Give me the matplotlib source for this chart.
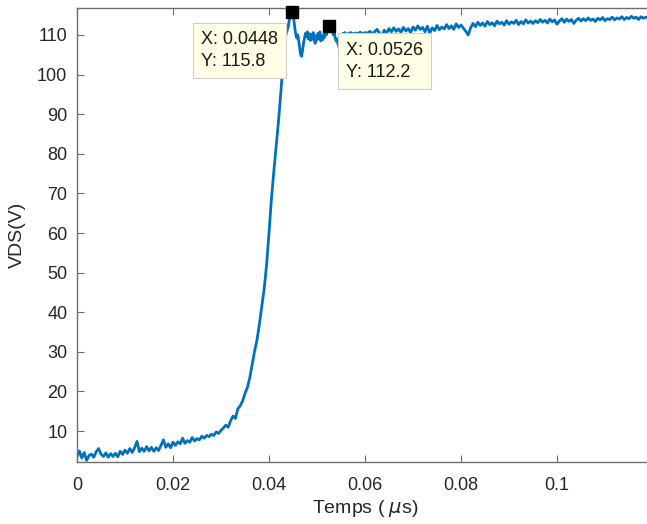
import numpy as np
import matplotlib
matplotlib.use("Agg")
import matplotlib.pyplot as plt

# VDS samples, three segments with their own step
# segment 1: 0 .. 0.0435 us, step 0.0005
vds_rise = [
    3.5, 5.0, 3.2, 4.6, 2.6, 3.8, 4.2, 3.4, 4.8, 5.6,
    4.2, 3.6, 4.5, 3.4, 4.3, 3.6, 4.4, 3.5, 4.9, 4.1,
    5.2, 4.4, 5.6, 4.6, 5.8, 7.4, 4.8, 5.7, 4.9, 6.1,
    5.0, 5.9, 4.9, 5.8, 5.1, 6.4, 7.8, 5.9, 6.8, 5.8,
    7.2, 6.4, 7.3, 6.8, 8.2, 6.9, 7.6, 7.2, 8.4, 7.5,
    8.1, 7.8, 8.7, 8.2, 8.9, 8.6, 9.2, 8.9, 9.8, 9.4,
    10.2, 10.8, 11.5, 11.0, 12.6, 13.8, 13.2, 15.6, 16.4, 17.6,
    19.5, 21.0, 23.5, 26.8, 30.2, 33.0, 37.0, 41.5, 46.0, 52.0,
    60.0, 68.5, 75.5, 82.0, 88.5, 96.0, 104.5, 110.0,
]
# segment 2: 0.0440 .. 0.0560 us, step 0.0002 (overshoot and ringing)
vds_peak = [
    112.0, 113.6, 114.8, 115.5, 115.8, 115.2, 113.6, 111.5, 110.0, 109.2,
    110.0, 108.4, 106.6, 105.0, 104.6, 106.2, 108.0, 109.2, 110.4, 109.6,
    110.8, 109.0, 110.3, 108.6, 110.1, 108.9, 110.6, 109.2, 107.9, 109.8,
    108.7, 110.4, 109.1, 110.8, 108.5, 109.7, 108.8, 110.2, 109.4, 110.9,
    110.1, 111.3, 111.7, 112.2, 111.6, 110.8, 111.4, 110.0, 110.6, 109.2,
    108.4, 109.0, 107.6, 106.8, 106.2, 107.8, 109.6, 110.4, 110.1, 110.6,
    110.2,
]
# segment 3: 0.0565 .. 0.1190 us, step 0.0005 (plateau)
vds_flat = [
    110.3, 110.6, 110.2, 110.5, 110.3, 110.7, 110.2, 110.6, 110.4, 110.9,
    110.3, 110.8, 111.4, 110.5, 109.6, 111.2, 110.4, 111.6, 110.8, 111.8,
    110.9, 111.5, 110.7, 111.9, 111.0, 111.6, 110.6, 112.0, 111.2, 112.3,
    111.4, 111.9, 110.8, 112.2, 110.4, 111.8, 111.1, 112.4, 111.3, 112.0,
    111.5, 112.6, 111.6, 112.3, 111.4, 112.8, 111.9, 112.5, 111.7, 110.9,
    110.0, 111.8, 112.9, 112.1, 113.2, 112.4, 113.0, 112.2, 113.4, 112.6,
    113.1, 112.3, 113.5, 112.8, 113.2, 112.5, 113.6, 112.7, 113.3, 112.9,
    113.7, 112.6, 113.4, 112.8, 113.8, 113.0, 113.5, 112.9, 113.6, 113.1,
    113.9, 113.2, 113.7, 113.0, 114.0, 113.3, 113.8, 112.7, 113.5, 114.1,
    113.2, 114.0, 113.4, 113.9, 112.9, 113.7, 114.2, 113.5, 114.1, 113.6,
    114.3, 113.7, 114.0, 113.4, 114.2, 113.8, 114.4, 113.6, 114.1, 113.9,
    114.5, 113.8, 114.3, 114.0, 114.6, 113.9, 114.4, 114.1, 114.7, 114.2,
    114.5, 113.9, 114.6, 114.2, 114.5, 114.3,
]

# data tips shown on the figure
tip_x = [0.0448, 0.0526]
tip_y = [115.8, 112.2]

x_ticks = [0, 0.02, 0.04, 0.06, 0.08, 0.1]
x_tick_labels = ["0", "0.02", "0.04", "0.06", "0.08", "0.1"]
y_ticks = [10, 20, 30, 40, 50, 60, 70, 80, 90, 100, 110]


def main():
    plt.rcParams["font.family"] = ["Liberation Sans", "DejaVu Sans"]
    plt.rcParams["mathtext.fontset"] = "dejavusans"

    t = np.concatenate([
        np.linspace(0.0, 0.0435, len(vds_rise)),
        np.linspace(0.0440, 0.0560, len(vds_peak)),
        np.linspace(0.0565, 0.1190, len(vds_flat)),
    ])
    vds = np.array(vds_rise + vds_peak + vds_flat)

    fig = plt.figure(figsize=(6.47, 5.24), dpi=100)
    ax = fig.add_axes([77 / 647, 62 / 524, 576 / 647, 454 / 524])

    ax.plot(t, vds, color="#0072BD", linewidth=2.0)
    ax.plot(tip_x, tip_y, "s", color="black", markersize=9, clip_on=False, zorder=5)

    ax.set_xlim(0, 0.12)
    ax.set_ylim(2.2, 116.8)
    ax.set_xticks(x_ticks)
    ax.set_xticklabels(x_tick_labels)
    ax.set_yticks(y_ticks)

    text_col = "#262626"
    axis_col = "#6e6e6e"
    for side in ["left", "bottom", "top", "right"]:
        ax.spines[side].set_color(axis_col)
        ax.spines[side].set_linewidth(1.0)
    ax.tick_params(direction="in", length=5, width=0.8, color=axis_col,
                   labelcolor=text_col, labelsize=13, top=True)
    ax.tick_params(axis="x", pad=11)
    ax.tick_params(axis="y", pad=7)

    ax.set_xlabel("Temps ( $\\mu$s)", fontsize=14, color=text_col, labelpad=3)
    ax.set_ylabel("VDS(V)", fontsize=14, color=text_col, labelpad=8)

    box = dict(boxstyle="square,pad=0.45", facecolor="#FFFFE6", edgecolor="#cfcfcf", linewidth=0.8)
    ax.annotate("X: %.4f\nY: %.1f" % (tip_x[0], tip_y[0]), xy=(tip_x[0], tip_y[0]),
                xytext=(-10, -14), textcoords="offset points", ha="right", va="top",
                multialignment="left", fontsize=13, color="#1a1a1a", linespacing=1.35,
                bbox=box, zorder=6)
    ax.annotate("X: %.4f\nY: %.1f" % (tip_x[1], tip_y[1]), xy=(tip_x[1], tip_y[1]),
                xytext=(12, -11), textcoords="offset points", ha="left", va="top",
                multialignment="left", fontsize=13, color="#1a1a1a", linespacing=1.4,
                bbox=box, zorder=6)

    fig.savefig("out.png", dpi=100)


if __name__ == "__main__":
    main()
